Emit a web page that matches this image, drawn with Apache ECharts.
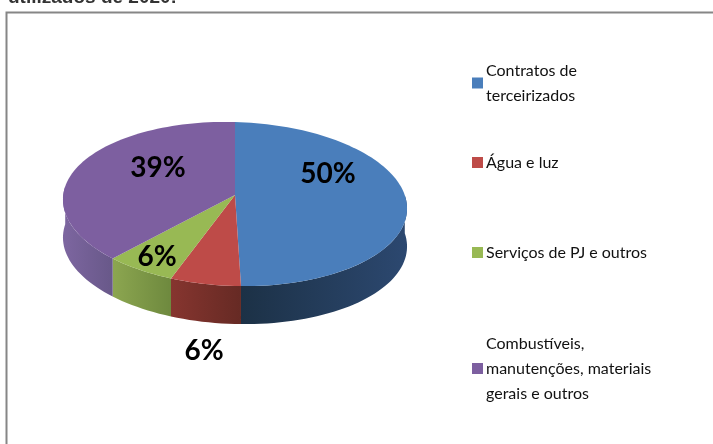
<!DOCTYPE html>
<html>
<head>
<meta charset="utf-8">
<style>
html, body { margin: 0; padding: 0; background: #fff; overflow: hidden; }
#main { width: 713px; height: 444px; }
</style>
<script src="https://cdn.jsdelivr.net/npm/echarts@6/dist/echarts.min.js"></script>
</head>
<body>
<div id="main"></div>
<script>
// valores (os rotulos somam 101)
const categories = ['Contratos de\nterceirizados', 'Água e luz', 'Serviços de PJ e outros', 'Combustíveis,\nmanutenções, materiais\ngerais e outros'];
const values = [50, 6, 6, 39];
const topColors = ['#4a7ebb', '#be4b48', '#98b954', '#7d5fa0'];
const wallColors = [['#2c4870', '#1c3146'], ['#86352f', '#662a24'], ['#8ca650', '#6e893e'], ['#7d66a0', '#685889']];
const labelAt = [[328, 174], [204, 351], [157, 257], [158, 168]];
const legendTop = [58, 150, 240, 331];

const cx = 235, cy = 195, radX = 171, radY = 81, persp = 0.11, shear = 0.026, depth = 38;
const total = values.reduce((a, b) => a + b, 0);

// ponto da borda do disco; angulo em graus a partir do topo, sentido horario
function rim(deg, down) {
  const t = deg * Math.PI / 180;
  const X = Math.sin(t), Y = -Math.cos(t);
  const w = 1 - persp * Y;
  const x = cx + radX * X / w;
  const y = cy + radY * Y / w + shear * (x - cx);
  return [x, y + (down || 0)];
}

function arc(from, to, down) {
  const pts = [];
  const n = Math.max(2, Math.ceil(Math.abs(to - from) / 2));
  for (let i = 0; i <= n; i++) pts.push(rim(from + (to - from) * i / n, down));
  return pts;
}

function sliceItem(k) {
  const start = values.slice(0, k).reduce((a, b) => a + b, 0) / total * 360;
  const end = start + values[k] / total * 360;
  return function () {
    const children = [];
    const a = Math.max(start, 87), b = Math.min(end, 273);
    if (b > a) {
      children.push({
        type: 'polygon',
        shape: { points: arc(a, b, 0).concat(arc(b, a, depth)) },
        style: {
          fill: new echarts.graphic.LinearGradient(0, 0, 1, 0, [
            { offset: 0, color: wallColors[k][k < 3 && k > 0 ? 0 : (k === 0 ? 1 : 0)] },
            { offset: 1, color: wallColors[k][k < 3 && k > 0 ? 1 : (k === 0 ? 0 : 1)] }
          ])
        }
      });
    }
    children.push({
      type: 'polygon',
      shape: { points: [[cx, cy]].concat(arc(start, end, 0)) },
      style: { fill: topColors[k] }
    });
    children.push({
      type: 'text',
      z2: 10,
      style: {
        text: values[k] + '%',
        x: labelAt[k][0], y: labelAt[k][1],
        align: 'center', verticalAlign: 'middle',
        font: 'bold 28px Lato, sans-serif',
        fill: '#000'
      }
    });
    return { type: 'group', children: children };
  };
}

const series = categories.map((name, k) => ({
  name: name,
  type: 'custom',
  coordinateSystem: 'none',
  itemStyle: { color: topColors[k] },
  silent: true,
  animation: false,
  data: [values[k]],
  renderItem: sliceItem(k)
}));

const legends = categories.map((name, k) => ({
  data: [name],
  left: 472,
  top: legendTop[k],
  orient: 'vertical',
  padding: 0,
  itemWidth: 11,
  itemHeight: 11,
  itemGap: 0,
  icon: 'rect',
  selectedMode: false,
  textStyle: { fontFamily: 'Lato, sans-serif', fontSize: 16, lineHeight: 25, color: '#111', padding: [0, 0, 0, -2] }
}));

const chart = echarts.init(document.getElementById('main'), null, { renderer: 'canvas' });
chart.setOption({
  animation: false,
  backgroundColor: '#fff',
  legend: legends,
  graphic: [
    { type: 'rect', silent: true, z: -1, shape: { x: 6.5, y: 12.5, width: 720, height: 450 }, style: { fill: '#fff', stroke: '#868686', lineWidth: 2 } },
    { type: 'text', silent: true, z: 0, style: { text: 'utilizados de 2020:', x: 8, y: -12, font: 'bold 19px "Liberation Sans", sans-serif', fill: '#333', letterSpacing: 1 } }
  ],
  series: series
});
</script>
</body>
</html>
